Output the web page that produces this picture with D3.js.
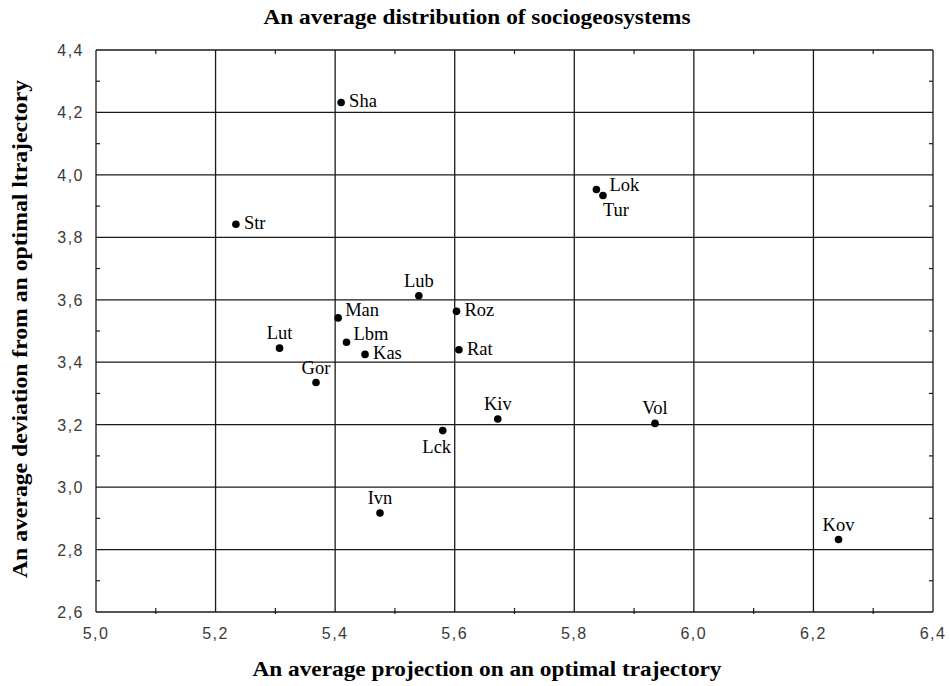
<!DOCTYPE html>
<html>
<head>
<meta charset="utf-8">
<script src="https://cdn.jsdelivr.net/npm/d3@7"></script>
<style>
  html, body { margin: 0; padding: 0; background: #fff; }
  svg { display: block; }
</style>
</head>
<body>
<script>
// Sociogeosystems: average projection on (x) and deviation from (y) an optimal trajectory
const names = ["Sha", "Str", "Lok", "Tur", "Lub", "Man", "Roz", "Lut", "Lbm", "Kas", "Rat", "Gor", "Kiv", "Lck", "Vol", "Ivn", "Kov"];
const projection = [5.410, 5.234, 5.837, 5.848, 5.540, 5.405, 5.603, 5.307, 5.419, 5.450, 5.607, 5.368, 5.672, 5.580, 5.935, 5.475, 6.242];
const deviation  = [4.232, 3.842, 3.953, 3.934, 3.613, 3.542, 3.563, 3.445, 3.464, 3.425, 3.440, 3.335, 3.218, 3.181, 3.204, 2.917, 2.832];
const xTicks = [5.0, 5.2, 5.4, 5.6, 5.8, 6.0, 6.2, 6.4];
const yTicks = [2.6, 2.8, 3.0, 3.2, 3.4, 3.6, 3.8, 4.0, 4.2, 4.4];

// where each label sits relative to its point
const placement = {
  Sha: "right", Str: "right", Lok: "rightHigh", Tur: "belowRight", Lub: "above",
  Man: "rightUp", Roz: "right", Lut: "above", Lbm: "rightUp", Kas: "right", Rat: "right",
  Gor: "above", Kiv: "above", Lck: "belowLeft", Vol: "above", Ivn: "above", Kov: "above"
};

const W = 950, H = 686;
const m = { left: 96, right: 17, top: 50, bottom: 74 };

const svg = d3.select("body").append("svg").attr("width", W).attr("height", H);

const x = d3.scaleLinear().domain([5.0, 6.4]).range([m.left, W - m.right]);
const y = d3.scaleLinear().domain([2.6, 4.4]).range([H - m.bottom, m.top]);

const fmt = v => d3.format(".1f")(v).replace(".", ",");
const ink = "#1a1a1a";

// grid (major lines at every labelled tick, including the frame)
const grid = svg.append("g").attr("stroke", ink).attr("stroke-width", 1.3);
grid.selectAll("line.v").data(xTicks).join("line")
  .attr("x1", d => x(d)).attr("x2", d => x(d))
  .attr("y1", y(4.4)).attr("y2", y(2.6));
grid.selectAll("line.h").data(yTicks).join("line")
  .attr("x1", x(5.0)).attr("x2", x(6.4))
  .attr("y1", d => y(d)).attr("y2", d => y(d));

// minor inward ticks at the half steps
const xMinor = d3.range(5.1, 6.4, 0.2);
const yMinor = d3.range(2.7, 4.4, 0.2);
const minor = svg.append("g").attr("stroke", ink).attr("stroke-width", 1.2);
minor.selectAll("line.b").data(xMinor).join("line")
  .attr("x1", d => x(d)).attr("x2", d => x(d))
  .attr("y1", y(2.6) + 2).attr("y2", y(2.6) - 4);
minor.selectAll("line.t").data(xMinor).join("line")
  .attr("x1", d => x(d)).attr("x2", d => x(d))
  .attr("y1", y(4.4)).attr("y2", y(4.4) + 4);
minor.selectAll("line.l").data(yMinor).join("line")
  .attr("x1", x(5.0)).attr("x2", x(5.0) + 4)
  .attr("y1", d => y(d)).attr("y2", d => y(d));
minor.selectAll("line.r").data(yMinor).join("line")
  .attr("x1", x(6.4) - 4).attr("x2", x(6.4))
  .attr("y1", d => y(d)).attr("y2", d => y(d));

// tick labels
const tickFont = "'Liberation Sans', Arial, sans-serif";
svg.append("g").selectAll("text").data(xTicks).join("text")
  .attr("x", d => x(d)).attr("y", y(2.6) + 27)
  .attr("text-anchor", "middle")
  .attr("font-family", tickFont).attr("font-size", 16).attr("letter-spacing", 1.5)
  .attr("fill", "#3a3a3a")
  .text(fmt);
svg.append("g").selectAll("text").data(yTicks).join("text")
  .attr("x", x(5.0) - 12).attr("y", d => y(d) + 6)
  .attr("text-anchor", "end")
  .attr("font-family", tickFont).attr("font-size", 16).attr("letter-spacing", 1.5)
  .attr("fill", "#3a3a3a")
  .text(fmt);

// points
const pts = names.map((n, i) => ({ name: n, px: projection[i], py: deviation[i] }));
svg.append("g").selectAll("circle").data(pts).join("circle")
  .attr("cx", d => x(d.px)).attr("cy", d => y(d.py))
  .attr("r", 3.8).attr("fill", "#000");

// point labels
const offsets = {
  right:      { dx: 8,  dy: 5,   anchor: "start" },
  rightUp:    { dx: 7,  dy: -2,  anchor: "start" },
  rightHigh:  { dx: 13, dy: 1,   anchor: "start" },
  above:      { dx: 0,  dy: -9,  anchor: "middle" },
  belowRight: { dx: 13, dy: 21,  anchor: "middle" },
  belowLeft:  { dx: -6, dy: 22,  anchor: "middle" }
};
const serif = "'Liberation Serif', 'Times New Roman', serif";
svg.append("g").selectAll("text").data(pts).join("text")
  .attr("x", d => x(d.px) + offsets[placement[d.name]].dx)
  .attr("y", d => y(d.py) + offsets[placement[d.name]].dy)
  .attr("text-anchor", d => offsets[placement[d.name]].anchor)
  .attr("font-family", serif).attr("font-size", 18.5)
  .attr("fill", "#000")
  .text(d => d.name);

// titles
svg.append("text")
  .attr("x", 477).attr("y", 24)
  .attr("text-anchor", "middle")
  .attr("font-family", serif).attr("font-weight", "bold").attr("font-size", 21)
  .attr("textLength", 427).attr("lengthAdjust", "spacingAndGlyphs")
  .text("An average distribution of sociogeosystems");

svg.append("text")
  .attr("x", 487).attr("y", 676)
  .attr("text-anchor", "middle")
  .attr("font-family", serif).attr("font-weight", "bold").attr("font-size", 21)
  .attr("textLength", 469).attr("lengthAdjust", "spacingAndGlyphs")
  .text("An average projection on an optimal trajectory");

svg.append("text")
  .attr("transform", `translate(27, ${(80 + 578) / 2}) rotate(-90)`)
  .attr("text-anchor", "middle")
  .attr("font-family", serif).attr("font-weight", "bold").attr("font-size", 21)
  .attr("textLength", 498).attr("lengthAdjust", "spacingAndGlyphs")
  .text("An average deviation from an optimal ltrajectory");
</script>
</body>
</html>
